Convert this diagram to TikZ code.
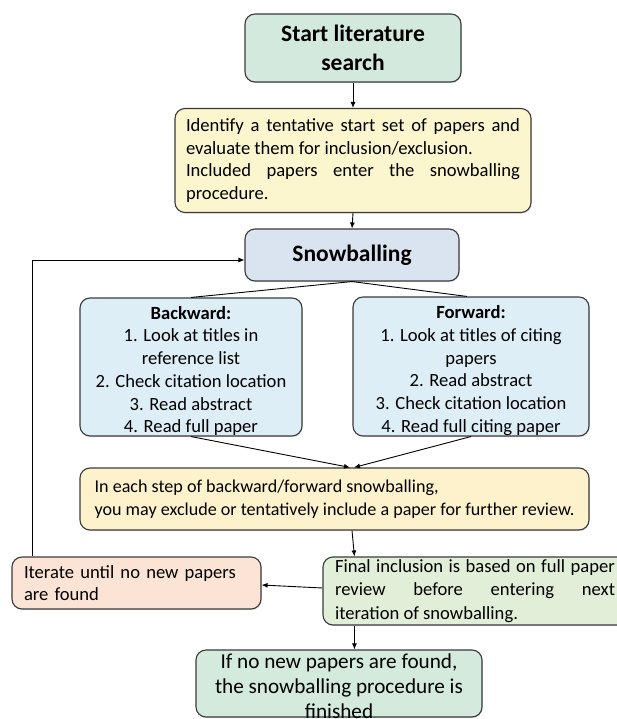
\documentclass[tikz,border=0pt]{standalone}
\usepackage{fontspec}
\setmainfont{Carlito}
\usetikzlibrary{arrows.meta,shadows}

\hyphenpenalty=10000
\exhyphenpenalty=10000

\definecolor{boxline}{HTML}{3A3A3A}
\definecolor{startfill}{HTML}{D4E9DD}
\definecolor{seedfill}{HTML}{FBF6CE}
\definecolor{snowfill}{HTML}{DAE4F1}
\definecolor{stepfill}{HTML}{DEEEF6}
\definecolor{reviewfill}{HTML}{FEF2CD}
\definecolor{iterfill}{HTML}{FBE4D5}
\definecolor{finalfill}{HTML}{E1EFD9}
\definecolor{donefill}{HTML}{D4EADC}

\begin{document}
\begin{tikzpicture}[x=1pt,y=-1pt,
  box/.style={draw=boxline, line width=1.1pt, rounded corners=10pt, inner sep=0pt,
    drop shadow={opacity=0.22, shadow xshift=0.8pt, shadow yshift=-1.2pt}},
  body/.style={font=\fontsize{18.6}{22.5}\selectfont},
  heading/.style={font=\fontsize{23.5}{28.5}\selectfont\bfseries},
  flow/.style={-{Latex[length=6pt,width=5pt]}, line width=0.9pt},
  link/.style={line width=0.9pt}]

\useasboundingbox (0,0) rectangle (617,719);

% main column
\node[box, fill=startfill, heading, align=center, minimum width=216pt, minimum height=68pt]
  (start) at (353,48) {Start literature\\search};

\node[box, fill=seedfill, body, text width=334pt, align=justify, minimum width=356pt, minimum height=104pt]
  (seed) at (353,160.5)
  {Identify a tentative start set of papers and\linebreak evaluate them for inclusion/exclusion.\\
   Included papers enter the snowballing\linebreak procedure.};

\node[box, fill=snowfill, heading, minimum width=214pt, minimum height=52pt]
  (snow) at (352,255) {Snowballing};

% backward and forward steps
\node[box, fill=stepfill, font=\fontsize{18.6}{22.7}\selectfont, align=center, minimum width=222pt, minimum height=138pt]
  (back) at (191,367)
  {\rule{0pt}{21pt}\textbf{Backward:}\\1. Look at titles in\\reference list\\2. Check citation location\\3. Read abstract\\4. Read full paper};

\node[box, fill=stepfill, font=\fontsize{18.6}{22.7}\selectfont, align=center, minimum width=236pt, minimum height=139pt]
  (fwd) at (471,366.5)
  {\rule{0pt}{21pt}\textbf{Forward:}\\1. Look at titles of citing\\papers\\2. Read abstract\\3. Check citation location\\4. Read full citing paper};

\node[box, fill=reviewfill, font=\fontsize{18.1}{23}\selectfont, align=left, minimum width=509pt, minimum height=62pt]
  (review) at (334.5,499)
  {In each step of backward/forward snowballing,\\you may exclude or tentatively include a paper for further review.};

% iteration and decision
\node[box, fill=iterfill, body, text width=225pt, align=left, minimum width=249pt, minimum height=52pt]
  (iter) at (136.5,583) {Iterate until no new papers\\are found};

\node[box, fill=finalfill, font=\fontsize{18.6}{23.5}\selectfont, text width=280pt, align=justify, minimum width=304pt, minimum height=68pt]
  (final) at (475,591)
  {Final inclusion is based on full paper\linebreak review before entering next\linebreak iteration of snowballing.};

\node[box, fill=donefill, minimum width=286pt, minimum height=67pt]
  (done) at (339,683.5) {};
\node[font=\fontsize{21.2}{25}\selectfont, align=center, inner sep=0pt, anchor=north]
  (donetext) at (339,654)
  {If no new papers are found,\\the snowballing procedure is\\finished};

% connectors
\draw[flow] (start.south) -- (seed.north);
\draw[flow] (seed.south) -- (snow.north);
\draw[link] (snow.south) -- (back.north);
\draw[link] (snow.south) -- ([xshift=-4pt]fwd.north);
\draw[flow] (back.south) -- ([xshift=-2pt]snow.south |- review.north);
\draw[flow] (fwd.south) -- ([xshift=2pt]snow.south |- review.north);
\draw[flow] ([xshift=17.5pt]review.south) -- ([xshift=32pt]final.north west);
\draw[flow] ([yshift=3pt]final.west) -- ([yshift=-2pt]iter.east);
\draw[flow] ([xshift=32pt]final.south west) -- ([xshift=32pt]final.south west |- done.north);
\draw[flow] ([xshift=21pt]iter.north west) |- ([yshift=-5pt]snow.west);

\end{tikzpicture}
\end{document}
